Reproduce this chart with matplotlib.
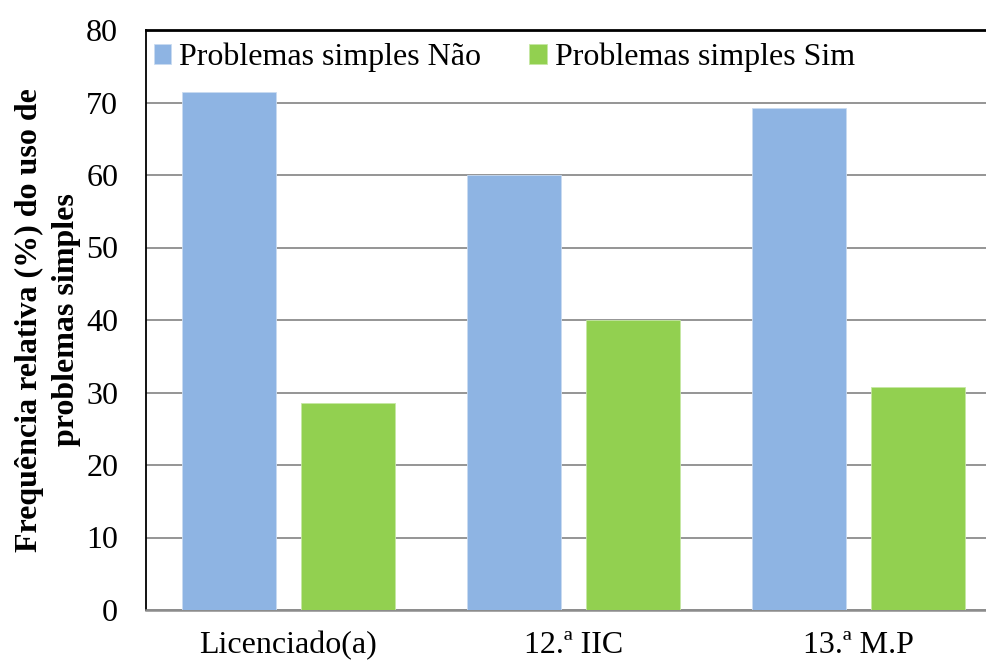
import matplotlib
matplotlib.use("Agg")
import matplotlib.pyplot as plt
import numpy as np

categories = ["Licenciado(a)", "12.ª IIC", "13.ª M.P"]
nao_values = [71.4, 60.0, 69.2]
sim_values = [28.6, 40.0, 30.8]
series_labels = ["Problemas simples Não", "Problemas simples Sim"]
y_ticks = [0, 10, 20, 30, 40, 50, 60, 70, 80]

plt.rcParams["font.family"] = ["Liberation Serif", "DejaVu Serif"]

fig = plt.figure(figsize=(9.87, 6.62), dpi=100)
W, H = 987, 662
left, right, top, bottom = 146, 1001, 30, 610
ax = fig.add_axes([left / W, 1 - bottom / H, (right - left) / W, (bottom - top) / H])

x = np.arange(len(categories))
bw = 0.33
off = 0.208
ax.bar(x - off, nao_values, bw, color="#8EB4E3", edgecolor="#C9DBF1",
       linewidth=0.6, label=series_labels[0], zorder=3)
ax.bar(x + off, sim_values, bw, color="#92D050", edgecolor="#C6E8A4",
       linewidth=0.6, label=series_labels[1], zorder=3)

ax.set_xlim(-0.5, 2.5)
ax.set_ylim(0, 80)
ax.set_yticks(y_ticks)
ax.set_xticks(x)
ax.set_xticklabels(categories)
ax.tick_params(axis="both", length=0, labelsize=23)
ax.tick_params(axis="y", pad=20)
ax.tick_params(axis="x", pad=15)

ax.yaxis.grid(True, color="#8C8C8C", linewidth=1.3, zorder=0)
ax.set_axisbelow(True)
ax.spines["right"].set_visible(False)
ax.spines["left"].set_color("black")
ax.spines["left"].set_linewidth(1.3)
ax.spines["top"].set_color("black")
ax.spines["top"].set_linewidth(2)
ax.spines["bottom"].set_color("#8C8C8C")
ax.spines["bottom"].set_linewidth(1.8)

ax.set_ylabel("Frequência relativa (%) do uso de\nproblemas simples",
              fontsize=23, fontweight="bold", labelpad=4, linespacing=1.35)

leg = ax.legend(loc="upper left", bbox_to_anchor=(-0.006, 1.0), ncol=2,
                frameon=False, fontsize=23, handlelength=0.55, handleheight=0.55,
                handletextpad=0.25, columnspacing=1.5, borderaxespad=0.2,
                borderpad=0.2)

fig.savefig("out.png", dpi=100)
